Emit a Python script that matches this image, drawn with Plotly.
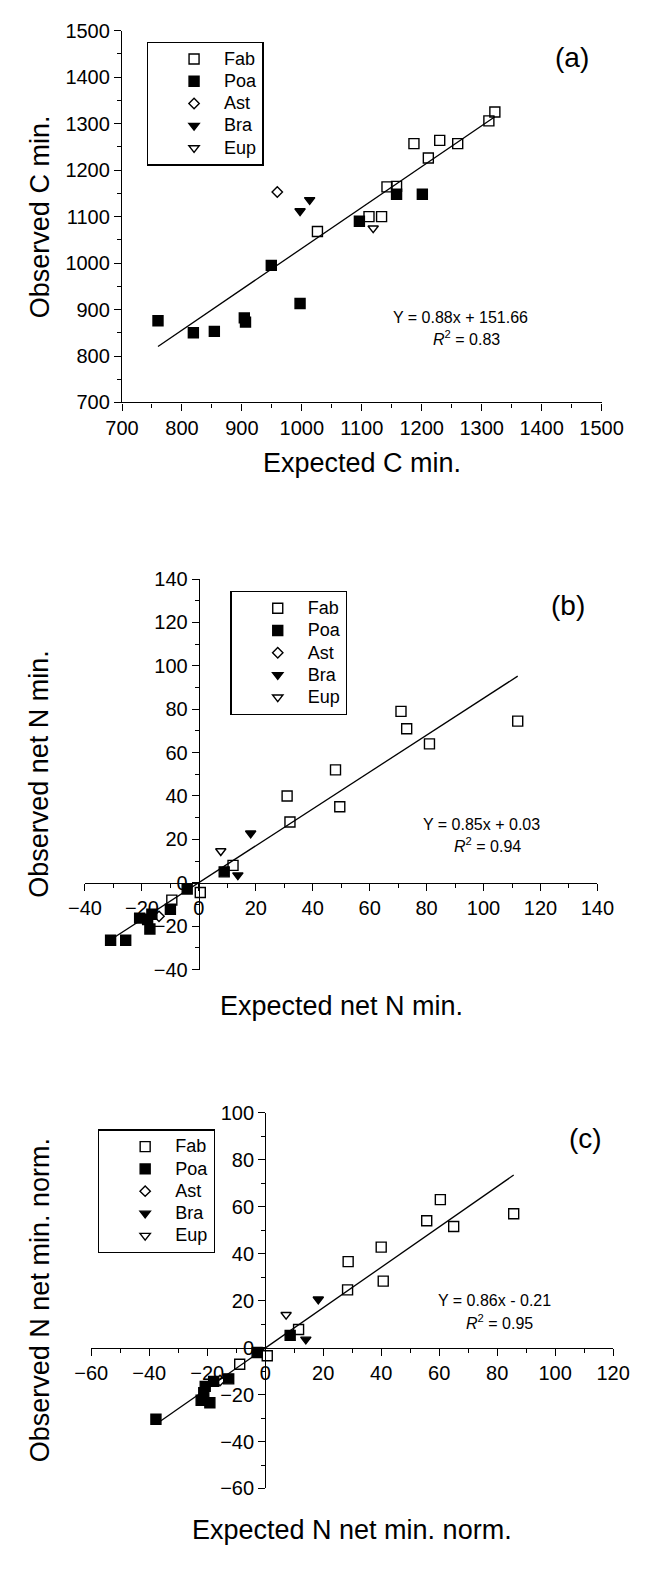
import plotly.graph_objects as go

W, H = 653, 1584
FONT = "Liberation Sans, Arial, sans-serif"

# ---------------- data ----------------
# Panel (a): carbon mineralisation
a_fab_x = [1026, 1112, 1133, 1142, 1158, 1187, 1211, 1230, 1260, 1312, 1322]
a_fab_y = [1068, 1100, 1100, 1164, 1165, 1257, 1226, 1264, 1257, 1306, 1325]
a_poa_x = [760, 819, 854, 904, 906, 949, 997, 1096, 1158, 1201]
a_poa_y = [876, 850, 853, 882, 873, 995, 913, 1090, 1148, 1148]
a_ast_x = [959]
a_ast_y = [1153]
a_bra_x = [997, 1013]
a_bra_y = [1112, 1136]
a_eup_x = [1119]
a_eup_y = [1075]
a_fit = (0.88, 151.66)

# Panel (b): net N mineralisation
b_fab_x = [71, 73, 81, 48, 31, 49.5, 32, 12, 0.5, -9.5, 112]
b_fab_y = [79, 71, 64, 52, 40, 35, 28, 8, -4.5, -8, 74.5]
b_poa_x = [-31, -25.7, -20.8, -18, -16.5, -17.2, -10, -4.1, 8.9]
b_poa_y = [-26.5, -26.5, -16.3, -17, -14.5, -21.3, -12.2, -2.9, 5]
b_ast_x = [-14]
b_ast_y = [-15.5]
b_bra_x = [18.2, 13.7]
b_bra_y = [22.8, 3.5]
b_eup_x = [7.7]
b_eup_y = [14.6]
b_fit = (0.85, 0.03)

# Panel (c): normalised net N mineralisation
c_fab_x = [60.4, 55.7, 65, 40, 28.6, 40.7, 28.4, 11.5, 0.7, -8.8, 85.7]
c_fab_y = [63, 54, 51.6, 42.8, 36.6, 28.3, 24.6, 7.7, -3.5, -7.1, 57]
c_poa_x = [-37.7, -22.1, -21.2, -20.7, -19.1, -17.8, -12.6, -2.8, 8.6]
c_poa_y = [-30.5, -22.4, -19.2, -16.5, -23.5, -14.4, -13.3, -2.1, 5.2]
c_ast_x = [-15.6]
c_ast_y = [-14]
c_bra_x = [18.3, 14]
c_bra_y = [20.6, 3.5]
c_eup_x = [7.2]
c_eup_y = [14]
c_fit = (0.86, -0.21)

groups = ["Fab", "Poa", "Ast", "Bra", "Eup"]
symbols = ["square-open", "square", "diamond-open", "triangle-down", "triangle-down-open"]
sizes = [10, 10, 8, 9, 9]

panels = [
    dict(series=[(a_fab_x, a_fab_y), (a_poa_x, a_poa_y), (a_ast_x, a_ast_y),
                 (a_bra_x, a_bra_y), (a_eup_x, a_eup_y)],
         fit=a_fit, xr=[700, 1500], yr=[700, 1500], dt=100, mdt=50,
         box=(111.7, 621.7, 20, 397), cross=False,
         xt="Expected C min.", yt="Observed C min.", lab="(a)",
         eq="Y = 0.88x + 151.66", r2="0.83",
         legpos=(138, 31), labpos=(590, 47), eqpos=(472, 311), r2pos=(478, 332),
         xtpos=458),
    dict(series=[(b_fab_x, b_fab_y), (b_poa_x, b_poa_y), (b_ast_x, b_ast_y),
                 (b_bra_x, b_bra_y), (b_eup_x, b_eup_y)],
         fit=b_fit, xr=[-40, 140], yr=[-40, 140], dt=20, mdt=10,
         box=(72.3, 617.3, 576, 972), cross=True,
         xt="Expected net N min.", yt="Observed net N min.", lab="(b)",
         eq="Y = 0.85x + 0.03", r2="0.94",
         legpos=(227, 588), labpos=(586, 603), eqpos=(494, 825), r2pos=(500, 846),
         xtpos=1009),
    dict(series=[(c_fab_x, c_fab_y), (c_poa_x, c_poa_y), (c_ast_x, c_ast_y),
                 (c_bra_x, c_bra_y), (c_eup_x, c_eup_y)],
         fit=c_fit, xr=[-60, 120], yr=[-60, 100], dt=20, mdt=10,
         box=(79, 634, 1117.3, 1498.3), cross=True,
         xt="Expected N net min. norm.", yt="Observed N net min. norm.", lab="(c)",
         eq="Y = 0.86x - 0.21", r2="0.95",
         legpos=(86, 1134), labpos=(605, 1143), eqpos=(508, 1308), r2pos=(513, 1329),
         xtpos=1540),
]

fig = go.Figure()
annotations = []
layout = {}


def ann(text, X, Y, size, angle=0):
    annotations.append(dict(text=text, x=X / W, y=1 - Y / H, xref="paper",
                            yref="paper", showarrow=False, xanchor="center",
                            yanchor="middle", textangle=angle,
                            font=dict(family=FONT, size=size, color="black")))


for i, p in enumerate(panels):
    n = "" if i == 0 else str(i + 1)
    xa, ya = "x" + n, "y" + n
    legname = "legend" + n
    for (xs, ys), g, s, sz in zip(p["series"], groups, symbols, sizes):
        fig.add_trace(go.Scatter(
            x=xs, y=ys, mode="markers",
            name="<span style='font-size:18px'>" + g + "</span>",
            xaxis=xa, yaxis=ya, legend=legname, showlegend=True,
            marker=dict(symbol=s, size=sz, color="black",
                        line=dict(color="black", width=1.4))))
    allx = [v for xs, _ in p["series"] for v in xs]
    m, b = p["fit"]
    fx = [min(allx), max(allx)]
    fig.add_trace(go.Scatter(x=fx, y=[m * v + b for v in fx], mode="lines",
                             xaxis=xa, yaxis=ya, showlegend=False,
                             line=dict(color="black", width=1.3)))

    x0, x1, ytop, ybot = p["box"]
    xdom = [x0 / W, x1 / W]
    ydom = [1 - ybot / H, 1 - ytop / H]
    common = dict(showline=True, linecolor="black", linewidth=1.3, ticks="outside",
                  ticklen=7, tickwidth=1.3, tickcolor="black", showgrid=False,
                  zeroline=False, tickfont=dict(family=FONT, size=20, color="black"),
                  dtick=p["dt"], tick0=0,
                  minor=dict(ticks="outside", ticklen=4, tickwidth=1.3,
                             tickcolor="black", dtick=p["mdt"], showgrid=False))
    xax = dict(common, domain=xdom, range=p["xr"])
    yax = dict(common, domain=ydom, range=p["yr"])
    if p["cross"]:
        xr, yr = p["xr"], p["yr"]
        xpos0 = x0 + (0 - xr[0]) / (xr[1] - xr[0]) * (x1 - x0)
        ypos0 = ybot - (0 - yr[0]) / (yr[1] - yr[0]) * (ybot - ytop)
        xax.update(anchor="free", position=1 - ypos0 / H)
        yax.update(anchor="free", position=xpos0 / W)
    else:
        xax.update(anchor=ya)
        yax.update(anchor=xa)
    layout["xaxis" + n] = xax
    layout["yaxis" + n] = yax

    lx, ly = p["legpos"]
    layout[legname] = dict(x=lx / W, y=1 - ly / H, xanchor="left", yanchor="top",
                           bordercolor="black", borderwidth=1.3, bgcolor="white",
                           font=dict(family=FONT, size=14.8, color="black"),
                           tracegroupgap=0, itemwidth=50, indentation=16)

    ann(p["lab"], *p["labpos"], 28)
    ann(p["eq"], *p["eqpos"], 16)
    ann("<i>R</i><sup>2</sup> = " + p["r2"], *p["r2pos"], 16)
    ann(p["xt"], (x0 + x1) / 2, p["xtpos"], 27)
    ann(p["yt"], 24, (ytop + ybot) / 2, 27, angle=-90)

fig.update_layout(**layout)
fig.update_layout(width=W, height=H, margin=dict(l=0, r=0, t=0, b=0),
                  paper_bgcolor="white", plot_bgcolor="white",
                  annotations=annotations, font=dict(family=FONT, color="black"))

fig.write_html("out.html")
